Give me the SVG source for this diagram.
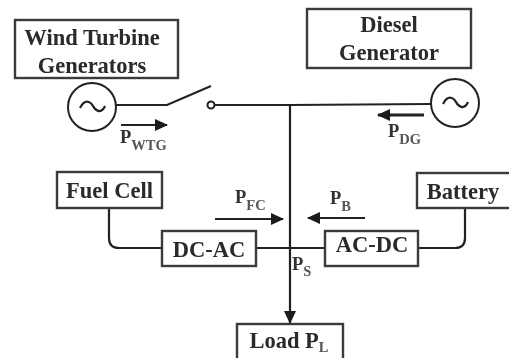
<svg xmlns="http://www.w3.org/2000/svg" width="509" height="358" viewBox="0 0 509 358">
<style>
.box{fill:#fff;stroke:#3a3a3a;stroke-width:2.4}
.ln{fill:none;stroke:#222;stroke-width:2.2}
.t{font-family:"Liberation Serif",serif;font-weight:bold;font-size:22.5px;fill:#2a2a2a;text-anchor:middle}
.p{font-family:"Liberation Serif",serif;font-weight:bold;font-size:18.5px;fill:#333}
.s{font-size:14.5px;fill:#555}
</style>
<defs>
<marker id="a" markerUnits="userSpaceOnUse" markerWidth="13" markerHeight="14" refX="12" refY="7" orient="auto"><path d="M0 1L13 7L0 13z" fill="#1a1a1a"/></marker>
<filter id="soft" filterUnits="userSpaceOnUse" x="0" y="0" width="509" height="358"><feGaussianBlur stdDeviation="0.55"/></filter>
</defs>
<rect width="509" height="358" fill="#fff"/>
<g filter="url(#soft)">
<g id="connectors">
<path class="ln" d="M115 105H167L211 86"/>
<path class="ln" d="M214 105H290L431 104"/>
<path class="ln" marker-end="url(#a)" d="M290 104V323"/>
<path class="ln" d="M109 208V238Q109 248 119 248H162"/>
<path class="ln" d="M256 248H325"/>
<path class="ln" d="M418 248H455Q465 248 465 238V208"/>
<path class="ln" marker-end="url(#a)" d="M121 125H167"/>
<path class="ln" style="stroke-width:3" marker-end="url(#a)" d="M424 115H378"/>
<path class="ln" marker-end="url(#a)" d="M215 219H283"/>
<path class="ln" marker-end="url(#a)" d="M365 218H308"/>
</g>
<g id="wind-turbine"><rect class="box" x="15" y="20" width="163" height="58"/><text class="t" x="92" y="45">Wind Turbine</text><text class="t" x="92" y="73">Generators</text></g>
<g id="diesel"><rect class="box" x="307" y="9" width="164" height="59"/><text class="t" x="389" y="32">Diesel</text><text class="t" x="389" y="60">Generator</text></g>
<g id="gen-left"><circle cx="92" cy="107" r="24" fill="#fff" stroke="#222" stroke-width="2"/><path class="ln" d="M80 108C85 98 91 102 93 106S101 115 105 106"/></g>
<g id="gen-right"><circle cx="455" cy="103" r="24" fill="#fff" stroke="#222" stroke-width="2"/><path class="ln" d="M443 104C448 94 454 98 456 102S464 111 468 102"/></g>
<g id="switch-contact"><circle cx="211" cy="105" r="3.5" fill="#fff" stroke="#222" stroke-width="2"/></g>
<g id="fuel-cell"><rect class="box" x="57" y="172" width="105" height="36"/><text class="t" x="109.500" y="198">Fuel Cell</text></g>
<g id="battery"><rect class="box" x="417" y="173" width="94" height="35"/><text class="t" x="463" y="199">Battery</text></g>
<g id="dc-ac"><rect class="box" x="162" y="231" width="94" height="35"/><text class="t" x="209" y="257">DC-AC</text></g>
<g id="ac-dc"><rect class="box" x="325" y="231" width="93" height="35"/><text class="t" x="372" y="252">AC-DC</text></g>
<g id="load"><rect class="box" x="237" y="324" width="106" height="36"/><text class="t" x="289" y="348">Load P<tspan class="s" dy="4">L</tspan></text></g>
<g id="labels">
<text class="p" x="120" y="143">P<tspan class="s" dy="7">WTG</tspan></text>
<text class="p" x="388" y="137">P<tspan class="s" dy="7">DG</tspan></text>
<text class="p" x="235" y="203">P<tspan class="s" dy="7">FC</tspan></text>
<text class="p" x="330" y="204">P<tspan class="s" dy="7">B</tspan></text>
<text class="p" x="292" y="270">P<tspan class="s" dy="6">S</tspan></text>
</g>
</g>
</svg>
